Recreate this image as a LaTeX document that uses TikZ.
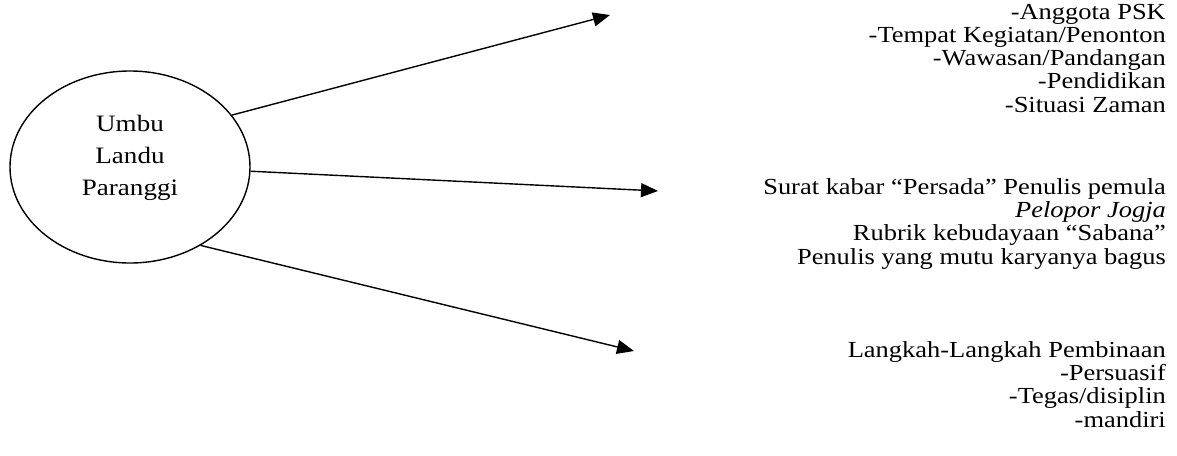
\documentclass[tikz,border=0pt]{standalone}
\usepackage{fontspec}
\setmainfont[FakeStretch=1.15]{Liberation Serif}
\usetikzlibrary{arrows.meta,shapes.geometric}
\tikzset{
  txt/.style={anchor=base east, inner sep=0pt, font=\fontsize{23}{23}\selectfont},
  htxt/.style={anchor=base, inner sep=0pt, font=\fontsize{23.5}{23}\selectfont},
  conn/.style={line width=1.4pt, -{Triangle[length=17pt,width=14pt]}},
  hub/.style={draw, line width=1.4pt, ellipse, minimum width=240pt, minimum height=192pt, inner sep=0pt}
}
\begin{document}
\begin{tikzpicture}[x=1pt,y=-1pt]
\useasboundingbox (0,0) rectangle (1177,455);
\node[hub] (c) at (130,167) {};
\node[htxt] (u1) at (130,131) {Umbu};
\node[htxt] (u2) at (130,163) {Landu};
\node[htxt] (u3) at (130,195) {Paranggi};
% block 1
\node[txt] (a1) at (1166,19) {-Anggota PSK};
\node[txt] (a2) at (1166,42.3) {-Tempat Kegiatan/Penonton};
\node[txt] (a3) at (1166,65.6) {-Wawasan/Pandangan};
\node[txt] (a4) at (1166,88.9) {-Pendidikan};
\node[txt] (a5) at (1166,112.2) {-Situasi Zaman};
% block 2
\node[txt] (b1) at (1166,194) {Surat kabar “Persada” Penulis pemula};
\node[txt] (b2) at (1166,217.3) {\itshape Pelopor Jogja};
\node[txt] (b3) at (1166,240.6) {Rubrik kebudayaan “Sabana”};
\node[txt] (b4) at (1166,264) {Penulis yang mutu karyanya bagus};
% block 3
\node[txt] (d1) at (1166,357) {Langkah-Langkah Pembinaan};
\node[txt] (d2) at (1166,380.3) {-Persuasif};
\node[txt] (d3) at (1166,403.6) {-Tegas/disiplin};
\node[txt] (d4) at (1166,427) {-mandiri};
% arrow tips
\coordinate (t1) at (610,15);
\coordinate (t2) at (658,191);
\coordinate (t3) at (634,351);
\draw[conn] (c.27) -- (t1);
\draw[conn] (c.-2) -- (t2);
\draw[conn] (c.-48) -- (t3);
\end{tikzpicture}
\end{document}
